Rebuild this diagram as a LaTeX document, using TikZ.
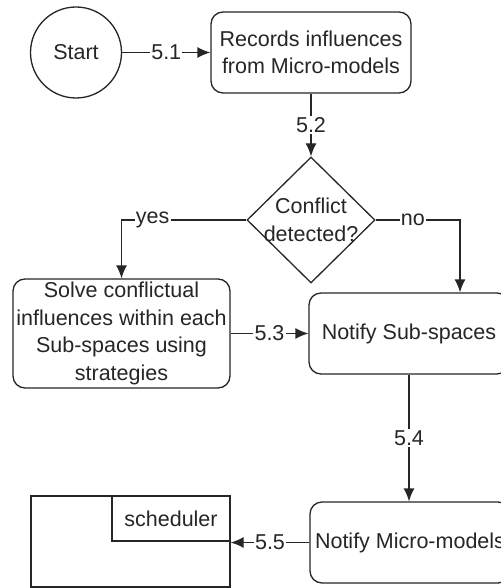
\documentclass[tikz,border=0pt]{standalone}
\usepackage{fontspec}
\setmainfont{Liberation Sans}
\usetikzlibrary{shapes.geometric,arrows.meta}

\begin{document}
\begin{tikzpicture}[x=0.5pt, y=-0.5pt, >={Latex[length=6.5pt,width=5.5pt]},
		every node/.style={font=\fontsize{10.75}{13.8}\selectfont, text=black!85},
		line/.style={draw=black!85, line width=0.65pt},
		process/.style={line, rounded corners=6pt, fill=white, align=center,
			inner sep=0pt, minimum width=100pt, minimum height=40.5pt},
		startnode/.style={line, circle, fill=white, minimum size=45.5pt, inner sep=0pt},
		decision/.style={line, diamond, fill=white, minimum width=64pt,
			minimum height=63pt, inner sep=0pt},
		store/.style={line, rectangle, fill=white, inner sep=0pt},
		flow/.style={line, ->},
		tag/.style={fill=white, inner sep=0.6pt}]
	\useasboundingbox (0,0) rectangle (501,588);
	\clip (0,0) rectangle (501,588);

	% nodes
	\node[startnode] (start) at (76,52.5) {Start};
	\node[process] (rec) at (311,52.5) {Records influences\\from Micro-models};
	\node[decision, label={[align=center, inner sep=0pt]center:Conflict\\detected?}]
		(cd) at (311,220) {};
	\node[process, minimum width=108.5pt, minimum height=54.5pt]
		(solve) at (121.5,333.5) {Solve conflictual\\influences within each\\Sub-spaces using\\strategies};
	\node[process] (sub) at (409,333.5) {Notify Sub-spaces};
	\node[process] (micro) at (410,542.5) {Notify Micro-models};
	\node[store, minimum width=99.5pt, minimum height=45.5pt] (sched) at (130.5,541.5) {};
	\node[store, minimum width=59pt, minimum height=22.5pt] (schedin) at (171,518.5) {scheduler};

	% connectors
	\draw[flow] (start.east) -- node[tag] {5.1} (rec.west);
	\draw[flow] (rec.south) -- node[tag] {5.2} (cd.north);
	\draw[flow] (cd.west) -| node[tag, pos=0.375] {yes} (solve.north);
	\draw[flow] (cd.east) -| node[tag, pos=0.22] {no} ([xshift=25.5pt]sub.north);
	\draw[flow] (solve.east) -- node[tag] {5.3} (solve.east -| sub.west);
	\draw[flow] (sub.south) -- node[tag] {5.4} (sub.south |- micro.north);
	\draw[flow] (micro.west) -- node[tag] {5.5} (micro.west -| sched.east);
\end{tikzpicture}
\end{document}
